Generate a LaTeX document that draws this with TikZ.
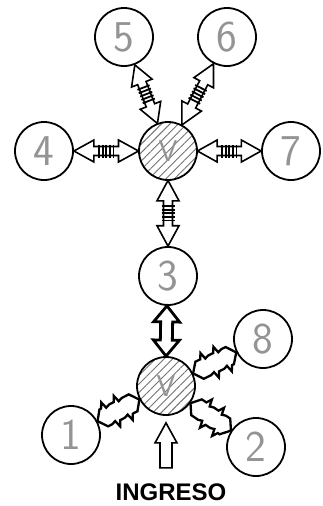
\documentclass[tikz,border=0pt]{standalone}
\usepackage{fontspec}
\setmainfont{Liberation Sans}
\usetikzlibrary{calc,patterns.meta}

\tikzset{
  room/.style={circle, draw=black, line width=1.8pt, minimum size=58pt, inner sep=0pt,
    font=\fontsize{44}{44}\selectfont\sffamily, text=black!42},
  hub/.style={room, font=\fontsize{30}{30}\selectfont\sffamily,
    pattern={Lines[angle=45,distance=6pt,line width=0.9pt]}, pattern color=black!55},
  hollow/.style={draw=black, fill=white, line width=1.6pt, line join=miter},
  bar/.style={draw=black, line width=1.8pt},
  label/.style={font=\bfseries\fontsize{24}{24}\selectfont}
}

\newcommand\linkto[3]{%
  \pgfmathanglebetweenpoints{\pgfpointanchor{#2}{center}}{\pgfpointanchor{#3}{center}}%
  \pgfmathsetmacro\lkang{\pgfmathresult}%
  \pgfmathsetmacro\lkbng{mod(\lkang+180,360)}%
  \path (#2.\lkang) coordinate (lka) (#3.\lkbng) coordinate (lkb);%
  \pgfpointdiff{\pgfpointanchor{lka}{center}}{\pgfpointanchor{lkb}{center}}%
  \pgfgetlastxy{\lkdx}{\lkdy}%
  \pgfmathsetmacro\lklen{veclen(\lkdx,\lkdy)}%
  \begin{scope}[shift={(lka)}, rotate=\lkang, x=1pt, y=1pt]
    #1
  \end{scope}%
}

\newcommand\springshape{%
  \pgfmathsetmacro\hh{0.31*\lklen}%
  \draw[hollow] (0,0) -- (\hh,11) -- (\hh,4.5) -- ({\lklen-\hh},4.5) -- ({\lklen-\hh},11)
    -- (\lklen,0) -- ({\lklen-\hh},-11) -- ({\lklen-\hh},-4.5) -- (\hh,-4.5) -- (\hh,-11) -- cycle;
  \foreach \k in {-2,-1,0,1,2} \draw[bar] ({\lklen/2+\k*3.6},-6.5) -- ({\lklen/2+\k*3.6},6.5);
}

\newcommand\boldshape{%
  \draw[hollow, line width=2.8pt] (0,0) -- (16,13) -- (16,6) -- ({\lklen-16},6) -- ({\lklen-16},13)
    -- (\lklen,0) -- ({\lklen-16},-13) -- ({\lklen-16},-6) -- (16,-6) -- (16,-13) -- cycle;
}

\newcommand\zigshape{%
  \pgfmathsetmacro\za{0.26*\lklen}\pgfmathsetmacro\zb{0.56*\lklen}%
  \pgfmathsetmacro\zc{0.32*\lklen}\pgfmathsetmacro\zd{0.62*\lklen}%
  \draw[hollow, line width=2.3pt] (0,0) -- ({0.15*\lklen},9.5)
    -- (\za,9.5) -- ({\za+3},15) -- ({\za+5},8) -- ({\za+9},9.5)
    -- (\zb,9.5) -- ({\zb+3},15) -- ({\zb+5},8) -- ({\zb+9},9.5)
    -- ({0.85*\lklen},9.5) -- (\lklen,0) -- ({0.85*\lklen},-9.5)
    -- ({\zd+9},-9.5) -- ({\zd+6},-15) -- ({\zd+4},-8) -- (\zd,-9.5)
    -- ({\zc+9},-9.5) -- ({\zc+6},-15) -- ({\zc+4},-8) -- (\zc,-9.5)
    -- ({0.15*\lklen},-9.5) -- cycle;
}

\begin{document}
\begin{tikzpicture}[x=1pt, y=-1pt]
  \useasboundingbox (0,0) rectangle (323,506);
  \fill[white] (0,0) rectangle (323,506);

  \node[room] (n5) at (124,37) {5};
  \node[room] (n6) at (227,37) {6};
  \node[room] (n4) at (44,151) {4};
  \node[hub]  (v1) at (168,151) {V};
  \node[room] (n7) at (291,151) {7};
  \node[room] (n3) at (168,276) {3};
  \node[hub]  (v2) at (166,386) {V};
  \node[room] (n8) at (263,339) {8};
  \node[room] (n1) at (71,435) {1};
  \node[room] (n2) at (256,447) {2};
  \node[label] (ing) at (171,492) {INGRESO};

  \linkto\springshape{v1}{n4}
  \linkto\springshape{v1}{n7}
  \linkto\springshape{v1}{n5}
  \linkto\springshape{v1}{n6}
  \linkto\springshape{v1}{n3}
  \linkto\boldshape{n3}{v2}
  \linkto\zigshape{v2}{n8}
  \linkto\zigshape{v2}{n1}
  \linkto\zigshape{v2}{n2}

  \coordinate (ingtip) at ($(v2.south)+(0,7)$);
  \draw[hollow] (ingtip) -- ++(11,20) -- ++(-5,0) -- ++(0,25) -- ++(-12,0) -- ++(0,-25) -- ++(-5,0) -- cycle;
\end{tikzpicture}
\end{document}
